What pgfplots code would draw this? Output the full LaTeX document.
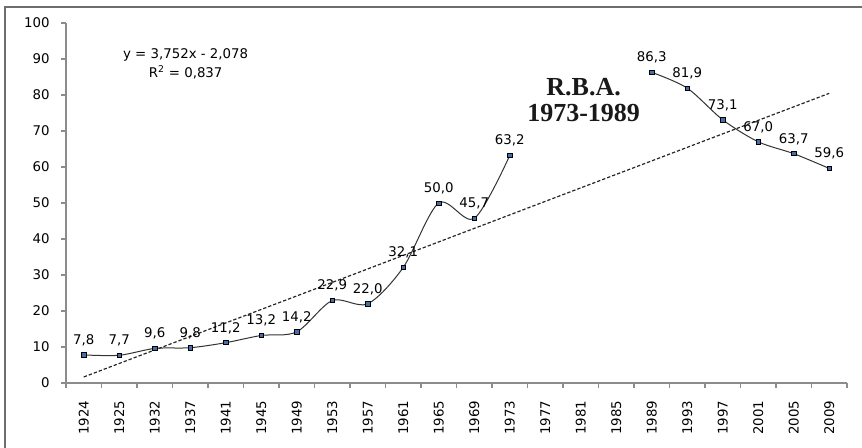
\documentclass[border=0pt]{standalone}
\usepackage{pgfplots}
\pgfplotsset{compat=1.18}
\usepackage{fontspec}
\setmainfont{DejaVu Sans}
\newfontfamily\rbafont{Liberation Serif}
\definecolor{markblue}{RGB}{70,110,170}
\definecolor{axgray}{RGB}{140,140,140}
\definecolor{bordergray}{RGB}{110,110,110}
\begin{document}
\begin{tikzpicture}
\useasboundingbox (-49.5pt,-48.75pt) rectangle (597pt,287.25pt);
\draw[bordergray, line width=1.2pt] (-45.75pt,-60pt) -- (-45.75pt,282pt) -- (610pt,282pt);
\begin{axis}[
  at={(0pt,0pt)}, anchor=south west,
  scale only axis, width=585.75pt, height=270pt,
  xmin=-0.5, xmax=21.5, ymin=0, ymax=100,
  axis x line*=bottom, axis y line*=left,
  axis line style={axgray, line width=0.8pt},
  xtick={0,...,21},
  xticklabels={1924,1925,1932,1937,1941,1945,1949,1953,1957,1961,1965,1969,1973,1977,1981,1985,1989,1993,1997,2001,2005,2009},
  minor xtick={-0.5,0.5,...,21.5},
  major x tick style={draw=none},
  minor x tick style={axgray, line width=0.8pt},
  ytick={0,10,...,100},
  ytick style={axgray, line width=0.8pt},
  tick align=outside,
  major tick length=3.75pt, minor tick length=3.75pt,
  xticklabel shift=6pt, yticklabel shift=5pt,
  x tick label style={rotate=90, anchor=east, font=\fontsize{10}{12}\selectfont, text=black},
  y tick label style={font=\fontsize{10}{12}\selectfont, text=black},
  /pgf/number format/assume math mode=true,
  clip=false,
]
\addplot[black!85, dash pattern=on 2.5pt off 1.5pt, line width=0.9pt] coordinates {(0,1.674) (21,80.466)};

\addplot[smooth, black!80, line width=0.75pt,
  mark=square*, mark size=1.6pt, mark options={fill=markblue, draw=black, solid, line width=0.5pt},
  nodes near coords,
  every node near coord/.append style={anchor=base, yshift=8pt, inner sep=0pt, font=\fontsize{10}{12}\selectfont, text=black},
  /pgf/number format/.cd, use comma, fixed, fixed zerofill, precision=1, assume math mode=true]
 coordinates {(0,7.8) (1,7.7) (2,9.6) (3,9.8) (4,11.2) (5,13.2) (6,14.2) (7,22.9) (8,22.0) (9,32.1) (10,50.0) (11,45.7) (12,63.2)};

\addplot[smooth, black!80, line width=0.75pt,
  mark=square*, mark size=1.6pt, mark options={fill=markblue, draw=black, solid, line width=0.5pt},
  nodes near coords,
  every node near coord/.append style={anchor=base, yshift=8pt, inner sep=0pt, font=\fontsize{10}{12}\selectfont, text=black},
  /pgf/number format/.cd, use comma, fixed, fixed zerofill, precision=1, assume math mode=true]
 coordinates {(16,86.3) (17,81.9) (18,73.1) (19,67.0) (20,63.7) (21,59.6)};

\node[align=center, font=\fontsize{10}{14}\selectfont, text=black] at (axis cs:2.87,88.6) {y = 3,752x - 2,078\\R\textsuperscript{2} = 0,837};
\node[align=center, font=\rbafont\bfseries\fontsize{19.5}{19.5}\selectfont, text=black!90] at (axis cs:14.08,78.6) {R.B.A.\\1973-1989};
\end{axis}
\end{tikzpicture}
\end{document}
